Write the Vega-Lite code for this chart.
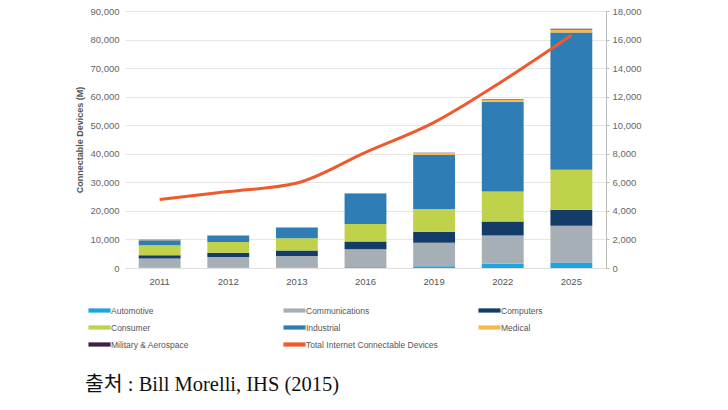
{
  "$schema": "https://vega.github.io/schema/vega-lite/v6.json",
  "autosize": "none",
  "width": 481,
  "height": 257,
  "padding": {"left": 125, "top": 11, "right": 122, "bottom": 142},
  "background": "white",
  "config": {
    "view": {"stroke": null},
    "font": "Liberation Sans",
    "axis": {"labelFont": "Liberation Sans", "titleFont": "Liberation Sans"}
  },
  "title": {
    "text": "출처 : Bill Morelli, IHS (2015)",
    "orient": "bottom",
    "anchor": "start",
    "frame": "group",
    "dx": -40,
    "offset": 26,
    "font": "Liberation Serif, Noto Sans CJK KR",
    "fontSize": 20.5,
    "fontWeight": "normal",
    "color": "#111111"
  },
  "datasets": {
    "segments": [
      {"year": "2011", "category": "Automotive", "value": 100},
      {"year": "2011", "category": "Communications", "value": 3250},
      {"year": "2011", "category": "Computers", "value": 1150},
      {"year": "2011", "category": "Consumer", "value": 3500},
      {"year": "2011", "category": "Industrial", "value": 1750},
      {"year": "2011", "category": "Medical", "value": 80},
      {"year": "2011", "category": "Military & Aerospace", "value": 30},
      {"year": "2012", "category": "Automotive", "value": 120},
      {"year": "2012", "category": "Communications", "value": 3750},
      {"year": "2012", "category": "Computers", "value": 1500},
      {"year": "2012", "category": "Consumer", "value": 3700},
      {"year": "2012", "category": "Industrial", "value": 2300},
      {"year": "2012", "category": "Medical", "value": 100},
      {"year": "2012", "category": "Military & Aerospace", "value": 40},
      {"year": "2013", "category": "Automotive", "value": 150},
      {"year": "2013", "category": "Communications", "value": 4050},
      {"year": "2013", "category": "Computers", "value": 1950},
      {"year": "2013", "category": "Consumer", "value": 4300},
      {"year": "2013", "category": "Industrial", "value": 3600},
      {"year": "2013", "category": "Medical", "value": 130},
      {"year": "2013", "category": "Military & Aerospace", "value": 50},
      {"year": "2016", "category": "Automotive", "value": 300},
      {"year": "2016", "category": "Communications", "value": 6250},
      {"year": "2016", "category": "Computers", "value": 2700},
      {"year": "2016", "category": "Consumer", "value": 6200},
      {"year": "2016", "category": "Industrial", "value": 10500},
      {"year": "2016", "category": "Medical", "value": 250},
      {"year": "2016", "category": "Military & Aerospace", "value": 80},
      {"year": "2019", "category": "Automotive", "value": 580},
      {"year": "2019", "category": "Communications", "value": 8300},
      {"year": "2019", "category": "Computers", "value": 3850},
      {"year": "2019", "category": "Consumer", "value": 7900},
      {"year": "2019", "category": "Industrial", "value": 18900},
      {"year": "2019", "category": "Medical", "value": 700},
      {"year": "2019", "category": "Military & Aerospace", "value": 120},
      {"year": "2022", "category": "Automotive", "value": 1500},
      {"year": "2022", "category": "Communications", "value": 9900},
      {"year": "2022", "category": "Computers", "value": 4900},
      {"year": "2022", "category": "Consumer", "value": 10500},
      {"year": "2022", "category": "Industrial", "value": 31400},
      {"year": "2022", "category": "Medical", "value": 750},
      {"year": "2022", "category": "Military & Aerospace", "value": 170},
      {"year": "2025", "category": "Automotive", "value": 1950},
      {"year": "2025", "category": "Communications", "value": 12850},
      {"year": "2025", "category": "Computers", "value": 5600},
      {"year": "2025", "category": "Consumer", "value": 14000},
      {"year": "2025", "category": "Industrial", "value": 48100},
      {"year": "2025", "category": "Medical", "value": 1000},
      {"year": "2025", "category": "Military & Aerospace", "value": 250}
    ],
    "total": [
      {"year": "2011", "devices": 4800},
      {"year": "2012", "devices": 5350},
      {"year": "2013", "devices": 5950},
      {"year": "2016", "devices": 8100},
      {"year": "2019", "devices": 10200},
      {"year": "2022", "devices": 13100},
      {"year": "2025", "devices": 16300}
    ]
  },
  "encoding": {
    "x": {
      "field": "year",
      "type": "ordinal",
      "scale": {"paddingInner": 0.39, "paddingOuter": 0.2},
      "axis": {
        "title": null,
        "labelAngle": 0,
        "labelFontSize": 9.5,
        "labelColor": "#555555",
        "labelPadding": 8,
        "ticks": false,
        "domainColor": "#e0e0e0"
      }
    }
  },
  "layer": [
    {
      "data": {"name": "segments"},
      "mark": {"type": "bar"},
      "encoding": {
        "y": {
          "field": "value",
          "type": "quantitative",
          "aggregate": "sum",
          "stack": "zero",
          "scale": {"domain": [0, 90000], "nice": false},
          "axis": {
            "orient": "left",
            "title": "Connectable Devices (M)",
            "titleFontSize": 9,
            "titleFontWeight": "bold",
            "titleColor": "#555555",
            "titlePadding": 5,
            "values": [0, 10000, 20000, 30000, 40000, 50000, 60000, 70000, 80000, 90000],
            "format": ",.0f",
            "labelFontSize": 9.5,
            "labelColor": "#666666",
            "labelPadding": 6,
            "domain": false,
            "ticks": false,
            "grid": true,
            "gridColor": "#e6e6e6"
          }
        },
        "color": {
          "field": "category",
          "type": "nominal",
          "scale": {
            "domain": ["Automotive", "Communications", "Computers", "Consumer", "Industrial", "Medical", "Military & Aerospace", "Total Internet Connectable Devices"],
            "range": ["#1ea4de", "#a7afb6", "#143c68", "#c0d24c", "#2e7db4", "#f8b84a", "#3d2048", "#ef5a2c"]
          },
          "legend": {
            "title": null,
            "orient": "none",
            "direction": "horizontal",
            "legendX": -34,
            "legendY": 291,
            "columns": 3,
            "gridAlign": "all",
            "columnPadding": 40,
            "rowPadding": 4,
            "symbolType": "M-1.3,-0.25H1.3V0.25H-1.3Z",
            "symbolSize": 289,
            "symbolStrokeWidth": 0,
            "labelFontSize": 8.5,
            "labelColor": "#555555",
            "labelLimit": 300,
            "labelOffset": 3,
            "encode": {
              "symbols": {
                "update": {
                  "fill": {"scale": "color", "field": "value"},
                  "stroke": {"value": "transparent"},
                  "opacity": {"value": 1}
                }
              }
            }
          }
        },
        "order": {"field": "category", "sort": "ascending"}
      }
    },
    {
      "data": {"name": "total"},
      "mark": {"type": "line", "strokeWidth": 3, "interpolate": "monotone"},
      "encoding": {
        "y": {
          "field": "devices",
          "type": "quantitative",
          "scale": {"domain": [0, 18000], "nice": false},
          "axis": {
            "orient": "right",
            "title": null,
            "values": [0, 2000, 4000, 6000, 8000, 10000, 12000, 14000, 16000, 18000],
            "format": ",.0f",
            "labelFontSize": 9.5,
            "labelColor": "#666666",
            "labelPadding": 3,
            "domain": true,
            "domainColor": "#bbbbbb",
            "ticks": true,
            "tickSize": 3,
            "tickColor": "#bbbbbb",
            "grid": false
          }
        },
        "color": {"datum": "Total Internet Connectable Devices"}
      }
    }
  ],
  "resolve": {"scale": {"y": "independent"}}
}
